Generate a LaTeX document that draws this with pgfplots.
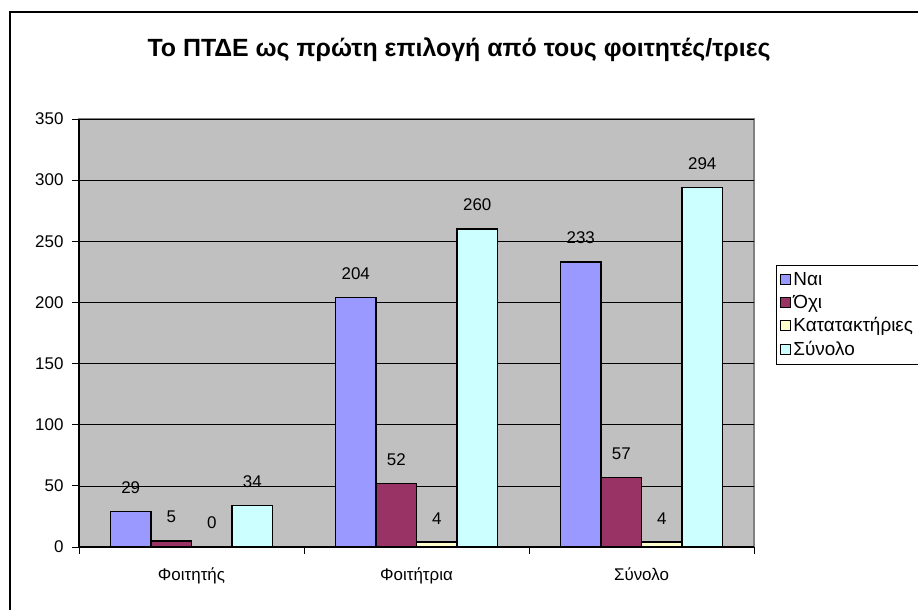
\documentclass[border=0pt]{standalone}
\usepackage{fontspec}
\setmainfont{Liberation Sans}
\usepackage{pgfplots}
\pgfplotsset{compat=1.18}

\definecolor{nai}{HTML}{9999FF}
\definecolor{oxi}{HTML}{993366}
\definecolor{katat}{HTML}{FFFFCC}
\definecolor{synolo}{HTML}{CCFFFF}
\definecolor{plotbg}{HTML}{C0C0C0}
\definecolor{plotedge}{HTML}{808080}

\begin{document}
\begin{tikzpicture}[x=1bp,y=1bp]
\useasboundingbox (0,0) rectangle (918,610);
\fill[white] (0,0) rectangle (918,610);
\draw[line width=1.3bp] (10,-20) rectangle (940,598);
\node[font=\fontsize{25}{29}\selectfont\bfseries] at (459,560) {Το ΠΤΔΕ ως πρώτη επιλογή από τους φοιτητές/τριες};

\begin{axis}[
    at={(79bp,63bp)}, anchor=south west,
    scale only axis,
    width=675bp, height=428bp,
    ybar=0pt,
    bar width=0.18,
    xmin=-0.5, xmax=2.5,
    ymin=0, ymax=350,
    ytick distance=50,
    xtick={0,1,2},
    xticklabels={Φοιτητής,Φοιτήτρια,Σύνολο},
    minor xtick={-0.5,0.5,1.5,2.5},
    major x tick style={draw=none},
    minor tick length=7bp,
    major tick length=7bp,
    tick align=outside,
    tick style={black, line width=0.8bp},
    axis lines*=left,
    axis line style={black, line width=1.2bp, -},
    axis background/.style={fill=plotbg, draw=plotedge, line width=1.5bp},
    ymajorgrids,
    grid style={black, line width=0.7bp},
    /pgf/number format/assume math mode=true,
    tick label style={font=\fontsize{17}{20}\selectfont},
    xticklabel style={yshift=-10bp},
    yticklabel style={xshift=-5bp},
    nodes near coords,
    nodes near coords style={font=\fontsize{17}{20}\selectfont, anchor=south, yshift=14bp},
    every axis plot/.append style={draw=black, line width=1.3bp},
    legend style={at={(1.0326,0.659)}, anchor=north west, draw=black, line width=0.8bp,
        font=\fontsize{19}{22}\selectfont, row sep=4bp, inner xsep=4bp, inner ysep=5bp,
        cells={anchor=west}},
    legend image code/.code={\draw[#1, line width=1bp] (0bp,-5bp) rectangle (10bp,5bp);},
]
\addplot[fill=nai] coordinates {(0,29) (1,204) (2,233)};
\addplot[fill=oxi] coordinates {(0,5) (1,52) (2,57)};
\addplot[fill=katat] coordinates {(0,0) (1,4) (2,4)};
\addplot[fill=synolo] coordinates {(0,34) (1,260) (2,294)};
\legend{Ναι,Όχι,Κατατακτήριες,Σύνολο}
\end{axis}
\end{tikzpicture}
\end{document}
